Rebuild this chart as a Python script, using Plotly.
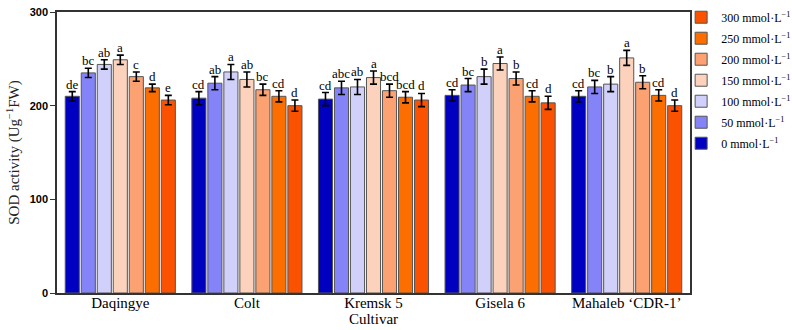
import plotly.graph_objects as go

cultivars = ["Daqingye", "Colt", "Kremsk 5", "Gisela 6", "Mahaleb \u2018CDR-1\u2019"]
treatments = ["0", "50", "100", "150", "200", "250", "300"]
colors = ["#0000C0", "#8484F8", "#D0D0FA", "#FCD2BC", "#FCA272", "#FC6E00", "#FA5200"]

values = {
    "0":   [210, 208, 207, 211, 210],
    "50":  [235, 224, 219, 222, 220],
    "100": [244, 236, 220, 231, 223],
    "150": [249, 228, 230, 245, 251],
    "200": [231, 217, 216, 229, 225],
    "250": [219, 210, 209, 210, 211],
    "300": [206, 200, 206, 203, 200],
}
errors = {
    "0":   [5, 7, 7, 6, 6],
    "50":  [5, 7, 7, 7, 7],
    "100": [5, 8, 8, 8, 8],
    "150": [5, 8, 7, 7, 8],
    "200": [5, 6, 7, 7, 7],
    "250": [4, 6, 6, 6, 6],
    "300": [5, 6, 7, 7, 6],
}
letters = {
    "0":   ["de", "cd", "cd", "cd", "cd"],
    "50":  ["bc", "ab", "abc", "bc", "bc"],
    "100": ["ab", "a", "ab", "b", "b"],
    "150": ["a", "ab", "a", "a", "a"],
    "200": ["c", "bc", "bcd", "b", "b"],
    "250": ["d", "cd", "bcd", "cd", "cd"],
    "300": ["e", "d", "d", "d", "d"],
}

SERIF = "Liberation Serif, Times New Roman, Times, serif"
bargap = 0.115
n = len(treatments)

fig = go.Figure()
for j, t in enumerate(treatments):
    fig.add_trace(go.Bar(
        x=cultivars, y=values[t], name=f"{t} mmol\u00b7L<sup>\u22121</sup>",
        legendgroup=t, legendrank=1000 - j,
        marker=dict(color=colors[j], line=dict(color="#555555", width=1)),
        error_y=dict(type="data", array=errors[t], color="black", thickness=1.6, width=3.5),
    ))

annotations = []
w = (1 - bargap) / n
for j, t in enumerate(treatments):
    for i in range(len(cultivars)):
        xpos = i - (1 - bargap) / 2 + w * (j + 0.5)
        annotations.append(dict(
            x=xpos, y=values[t][i] + errors[t][i], xref="x", yref="y",
            text=letters[t][i], showarrow=False, yanchor="bottom", yshift=-2,
            font=dict(family=SERIF, size=13, color="black"),
        ))

fig.update_layout(
    width=792, height=330,
    margin=dict(l=57, r=102, t=12, b=37, autoexpand=False),
    paper_bgcolor="white", plot_bgcolor="white",
    barmode="group", bargap=bargap, bargroupgap=0.12,
    annotations=annotations,
    legend=dict(
        traceorder="grouped", x=0.986, y=1.033, xanchor="left", yanchor="top",
        font=dict(family=SERIF, size=12, color="black"),
        itemwidth=30, tracegroupgap=2, bgcolor="rgba(0,0,0,0)",
    ),
    showlegend=True,
)
fig.update_xaxes(
    type="category", range=[-0.5, 4.5], automargin=False,
    showline=True, linecolor="#333333", linewidth=1.5, mirror=True,
    ticks="", showgrid=False, ticklabelstandoff=-5,
    tickfont=dict(family=SERIF, size=15, color="black"),
    title=dict(text="Cultivar", standoff=3,
               font=dict(family=SERIF, size=15, color="black")),
)
fig.update_yaxes(
    range=[0, 300], tickvals=[0, 100, 200, 300], automargin=False,
    showline=True, linecolor="#333333", linewidth=1.5, mirror=True,
    ticks="outside", ticklen=5, tickcolor="#333333", showgrid=False, zeroline=False,
    tickfont=dict(family="Liberation Sans, Arial, sans-serif", size=11, color="black", weight="bold"),
    title=dict(text="SOD activity (Ug<sup>\u22121</sup>FW)", standoff=6,
               font=dict(family=SERIF, size=15, color="#222222")),
)

fig.write_html("out.html")
